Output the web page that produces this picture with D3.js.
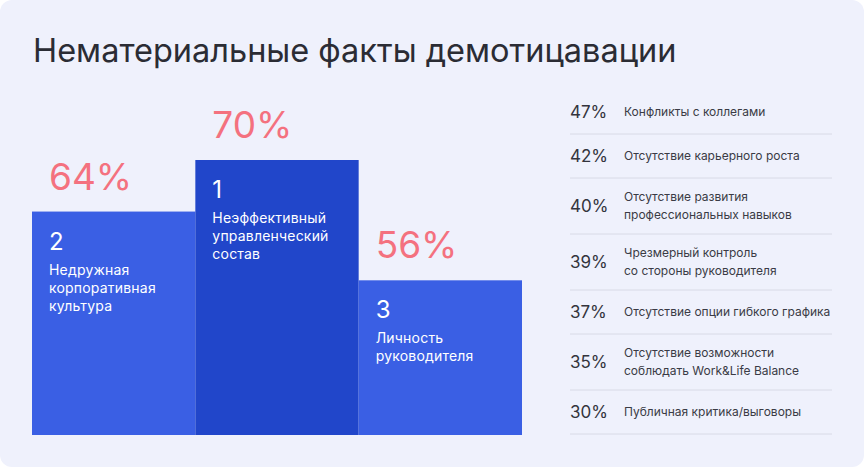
<!DOCTYPE html>
<html>

<head>
    <meta charset="utf-8">
    <title>Нематериальные факты демотицавации</title>
    <style>
        body {
            margin: 0;
            background: #ffffff;
        }

        svg {
            display: block;
            font-family: 'Inter', 'Noto Sans', sans-serif;
        }
    </style>
</head>

<body>
    <figure style="margin:0"></figure>

    <script src="https://d3js.org/d3.v7.min.js"></script>

    <script>

        ////////////////////////////////////
        ///////////// Data /////////////////
        ////////////////////////////////////

        const title = 'Нематериальные факты демотицавации'

        // podium bars (left to right)
        const barRanks = ['2', '1', '3']
        const barValues = [64, 70, 56]
        const barLabels = [
            ['Недружная', 'корпоративная', 'культура'],
            ['Неэффективный', 'управленческий', 'состав'],
            ['Личность', 'руководителя']
        ]

        // right hand list
        const listValues = [47, 42, 40, 39, 37, 35, 30]
        const listLabels = [
            ['Конфликты с коллегами'],
            ['Отсутствие карьерного роста'],
            ['Отсутствие развития', 'профессиональных навыков'],
            ['Чрезмерный контроль', 'со стороны руководителя'],
            ['Отсутствие опции гибкого графика'],
            ['Отсутствие возможности', 'соблюдать Work&Life Balance'],
            ['Публичная критика/выговоры']
        ]

        ////////////////////////////////////
        ///////////// SVG Setup ////////////
        ////////////////////////////////////

        const width = 864
        const height = 467

        const svg = d3.select('figure')
            .append('svg')
            .attr('width', width)
            .attr('height', height)

        // card background
        svg.append('rect')
            .attr('width', width)
            .attr('height', height)
            .attr('rx', 12)
            .style('fill', '#eff1fc')

        svg.append('text')
            .attr('x', 33)
            .attr('y', 62)
            .style('font-size', '32.5px')
            .style('fill', '#2b2c34')
            .text(title)

        ////////////////////////////////////
        /////////////// Scales /////////////
        ////////////////////////////////////

        const xScale = d3.scaleBand()
            .domain(d3.range(barValues.length))
            .range([32, 522])
            .padding(0)

        const yScale = d3.scaleLinear()
            .domain([38, 70])
            .range([435, 160])

        ////////////////////////////////////
        /////////////// Bars ///////////////
        ////////////////////////////////////

        const bars = svg.selectAll('.bar')
            .data(barValues)
            .enter()
            .append('g')
            .attr('class', 'bar')
            .attr('transform', (d, i) => `translate(${xScale(i)},0)`)

        bars.append('rect')
            .attr('y', d => yScale(d))
            .attr('width', xScale.bandwidth())
            .attr('height', d => yScale.range()[0] - yScale(d))
            .style('fill', (d, i) => i === 1 ? '#2146ca' : '#3a5fe4')

        // big pink value above the bar
        bars.append('text')
            .attr('x', 17)
            .attr('y', d => yScale(d) - 22)
            .style('font-size', '37px')
            .style('fill', '#f4717f')
            .text(d => d + '%')

        // rank number
        bars.append('text')
            .attr('x', 17)
            .attr('y', d => yScale(d) + 38)
            .style('font-size', '24px')
            .style('fill', '#ffffff')
            .text((d, i) => barRanks[i])

        // label lines
        bars.append('text')
            .attr('y', d => yScale(d) + 63)
            .style('font-size', '14px')
            .style('fill', '#ffffff')
            .style('letter-spacing', '0.2px')
            .selectAll('tspan')
            .data((d, i) => barLabels[i])
            .enter()
            .append('tspan')
            .attr('x', 17)
            .attr('dy', (d, i) => i === 0 ? 0 : 18)
            .text(d => d)

        ////////////////////////////////////
        /////////////// List ///////////////
        ////////////////////////////////////

        const rowHeights = listLabels.map(l => l.length > 1 ? 56 : 44)
        const rowTops = []
        rowHeights.reduce((acc, h) => { rowTops.push(acc); return acc + h }, 90)

        const rows = svg.selectAll('.row')
            .data(listValues)
            .enter()
            .append('g')
            .attr('class', 'row')
            .attr('transform', (d, i) => `translate(570,${rowTops[i]})`)

        rows.append('line')
            .attr('x1', 0)
            .attr('x2', 262)
            .attr('y1', (d, i) => rowHeights[i])
            .attr('y2', (d, i) => rowHeights[i])
            .style('stroke', '#d8dae6')
            .style('stroke-width', 1)

        rows.append('text')
            .attr('x', 0)
            .attr('y', (d, i) => rowHeights[i] / 2 + 6)
            .style('font-size', '17px')
            .style('fill', '#33343c')
            .text(d => d + '%')

        rows.append('text')
            .attr('y', (d, i) => rowHeights[i] / 2 + 4 - (listLabels[i].length - 1) * 9)
            .style('font-size', '12px')
            .style('fill', '#3a3b45')
            .selectAll('tspan')
            .data((d, i) => listLabels[i])
            .enter()
            .append('tspan')
            .attr('x', 54)
            .attr('dy', (d, i) => i === 0 ? 0 : 18)
            .text(d => d)

    </script>
</body>

</html>
